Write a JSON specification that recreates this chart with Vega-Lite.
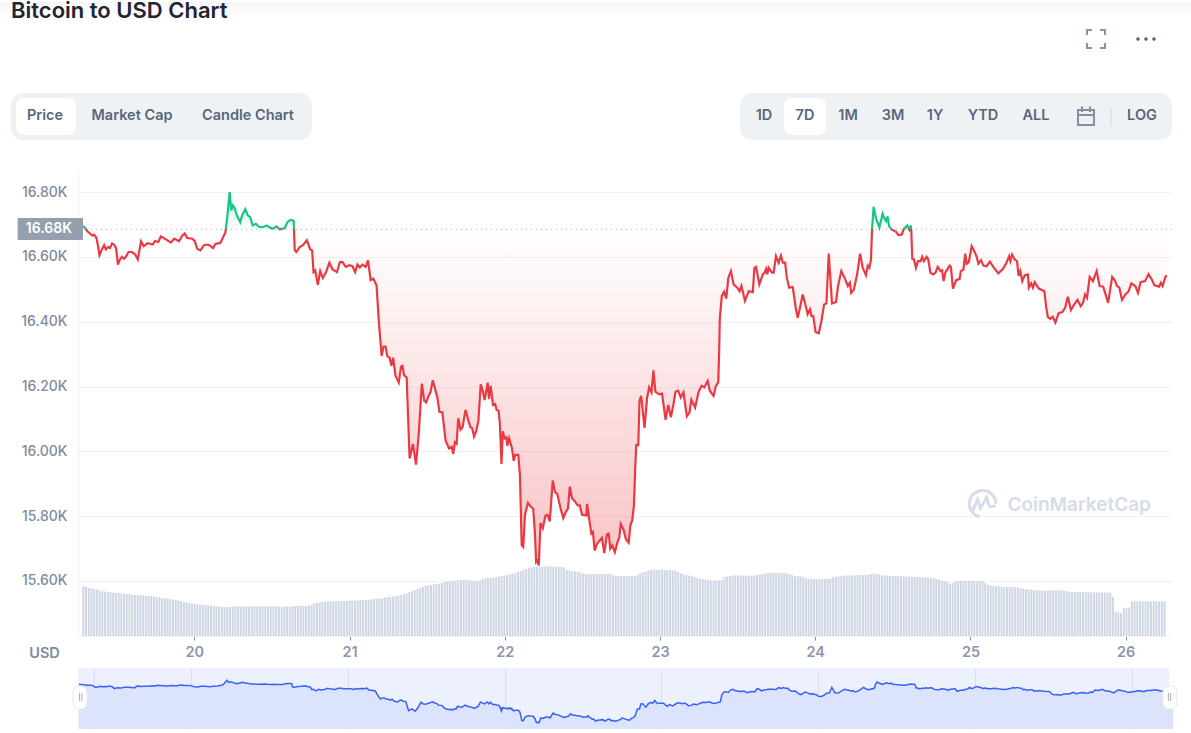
{"$schema":"https://vega.github.io/schema/vega-lite/v6.json","background":"#ffffff","padding":{"left":0,"top":0,"right":0,"bottom":5},"config":{"view":{"stroke":null},"font":"Inter"},"spacing":8,
"datasets":{"price":[
{"day":19.283,"price":16695},{"day":19.296,"price":16689},{"day":19.311,"price":16679},{"day":19.328,"price":16672},{"day":19.342,"price":16666},{"day":19.355,"price":16668},{"day":19.37,"price":16658},{"day":19.381,"price":16630},{"day":19.389,"price":16605},{"day":19.402,"price":16620},{"day":19.419,"price":16636},{"day":19.43,"price":16623},{"day":19.445,"price":16630},{"day":19.457,"price":16627},{"day":19.47,"price":16641},{"day":19.483,"price":16638},{"day":19.496,"price":16627},{"day":19.508,"price":16576},{"day":19.521,"price":16592},{"day":19.534,"price":16600},{"day":19.547,"price":16594},{"day":19.559,"price":16600},{"day":19.576,"price":16615},{"day":19.598,"price":16615},{"day":19.619,"price":16608},{"day":19.636,"price":16592},{"day":19.657,"price":16648},{"day":19.674,"price":16633},{"day":19.7,"price":16642},{"day":19.732,"price":16638},{"day":19.747,"price":16649},{"day":19.768,"price":16646},{"day":19.785,"price":16663},{"day":19.817,"price":16654},{"day":19.849,"price":16644},{"day":19.87,"price":16656},{"day":19.891,"price":16651},{"day":19.902,"price":16648},{"day":19.923,"price":16666},{"day":19.938,"price":16672},{"day":19.955,"price":16658},{"day":19.987,"price":16656},{"day":20.002,"price":16649},{"day":20.019,"price":16625},{"day":20.04,"price":16620},{"day":20.062,"price":16636},{"day":20.087,"price":16638},{"day":20.104,"price":16634},{"day":20.121,"price":16627},{"day":20.136,"price":16640},{"day":20.168,"price":16643},{"day":20.189,"price":16664},{"day":20.2,"price":16674},{"day":20.211,"price":16718},{"day":20.228,"price":16800},{"day":20.238,"price":16743},{"day":20.249,"price":16759},{"day":20.259,"price":16751},{"day":20.274,"price":16728},{"day":20.296,"price":16707},{"day":20.308,"price":16728},{"day":20.328,"price":16747},{"day":20.345,"price":16728},{"day":20.359,"price":16723},{"day":20.376,"price":16697},{"day":20.396,"price":16702},{"day":20.419,"price":16692},{"day":20.445,"price":16692},{"day":20.466,"price":16697},{"day":20.487,"price":16690},{"day":20.508,"price":16687},{"day":20.53,"price":16694},{"day":20.551,"price":16685},{"day":20.583,"price":16689},{"day":20.6,"price":16707},{"day":20.619,"price":16714},{"day":20.64,"price":16712},{"day":20.647,"price":16620},{"day":20.657,"price":16615},{"day":20.679,"price":16630},{"day":20.7,"price":16636},{"day":20.725,"price":16651},{"day":20.747,"price":16623},{"day":20.759,"price":16620},{"day":20.768,"price":16553},{"day":20.779,"price":16558},{"day":20.796,"price":16514},{"day":20.811,"price":16556},{"day":20.828,"price":16535},{"day":20.849,"price":16553},{"day":20.87,"price":16582},{"day":20.891,"price":16561},{"day":20.919,"price":16553},{"day":20.938,"price":16584},{"day":20.955,"price":16584},{"day":20.976,"price":16569},{"day":20.998,"price":16574},{"day":21.019,"price":16571},{"day":21.036,"price":16553},{"day":21.051,"price":16576},{"day":21.066,"price":16567},{"day":21.083,"price":16576},{"day":21.104,"price":16569},{"day":21.119,"price":16589},{"day":21.136,"price":16528},{"day":21.153,"price":16533},{"day":21.174,"price":16512},{"day":21.189,"price":16399},{"day":21.207,"price":16294},{"day":21.219,"price":16323},{"day":21.232,"price":16323},{"day":21.243,"price":16294},{"day":21.258,"price":16289},{"day":21.27,"price":16264},{"day":21.281,"price":16289},{"day":21.296,"price":16233},{"day":21.317,"price":16212},{"day":21.332,"price":16262},{"day":21.341,"price":16264},{"day":21.351,"price":16235},{"day":21.368,"price":16228},{"day":21.377,"price":16110},{"day":21.387,"price":15978},{"day":21.409,"price":16023},{"day":21.428,"price":15959},{"day":21.445,"price":16048},{"day":21.466,"price":16209},{"day":21.481,"price":16156},{"day":21.494,"price":16151},{"day":21.509,"price":16171},{"day":21.521,"price":16182},{"day":21.536,"price":16219},{"day":21.551,"price":16192},{"day":21.566,"price":16166},{"day":21.579,"price":16122},{"day":21.598,"price":16120},{"day":21.619,"price":16033},{"day":21.641,"price":16009},{"day":21.658,"price":16014},{"day":21.668,"price":15992},{"day":21.679,"price":16028},{"day":21.69,"price":16023},{"day":21.7,"price":16102},{"day":21.715,"price":16067},{"day":21.728,"price":16074},{"day":21.747,"price":16128},{"day":21.764,"price":16097},{"day":21.779,"price":16074},{"day":21.79,"price":16072},{"day":21.802,"price":16046},{"day":21.817,"price":16064},{"day":21.83,"price":16094},{"day":21.845,"price":16207},{"day":21.858,"price":16187},{"day":21.87,"price":16158},{"day":21.89,"price":16212},{"day":21.898,"price":16161},{"day":21.909,"price":16202},{"day":21.924,"price":16143},{"day":21.938,"price":16146},{"day":21.947,"price":16128},{"day":21.96,"price":16125},{"day":21.968,"price":16089},{"day":21.979,"price":15961},{"day":21.987,"price":16062},{"day":22,"price":16040},{"day":22.011,"price":16043},{"day":22.017,"price":16017},{"day":22.028,"price":16040},{"day":22.045,"price":16012},{"day":22.058,"price":15971},{"day":22.068,"price":15989},{"day":22.087,"price":15989},{"day":22.098,"price":15925},{"day":22.109,"price":15710},{"day":22.119,"price":15705},{"day":22.13,"price":15804},{"day":22.149,"price":15841},{"day":22.164,"price":15831},{"day":22.183,"price":15823},{"day":22.194,"price":15751},{"day":22.202,"price":15658},{"day":22.211,"price":15663},{"day":22.219,"price":15648},{"day":22.23,"price":15779},{"day":22.245,"price":15763},{"day":22.262,"price":15802},{"day":22.275,"price":15804},{"day":22.29,"price":15784},{"day":22.309,"price":15910},{"day":22.324,"price":15874},{"day":22.338,"price":15869},{"day":22.36,"price":15823},{"day":22.377,"price":15794},{"day":22.392,"price":15812},{"day":22.407,"price":15823},{"day":22.419,"price":15891},{"day":22.432,"price":15856},{"day":22.453,"price":15845},{"day":22.47,"price":15833},{"day":22.483,"price":15833},{"day":22.498,"price":15804},{"day":22.526,"price":15802},{"day":22.53,"price":15838},{"day":22.545,"price":15787},{"day":22.558,"price":15746},{"day":22.568,"price":15751},{"day":22.579,"price":15694},{"day":22.594,"price":15715},{"day":22.626,"price":15733},{"day":22.641,"price":15686},{"day":22.658,"price":15744},{"day":22.67,"price":15746},{"day":22.679,"price":15700},{"day":22.692,"price":15710},{"day":22.709,"price":15689},{"day":22.726,"price":15720},{"day":22.738,"price":15735},{"day":22.747,"price":15776},{"day":22.764,"price":15760},{"day":22.781,"price":15728},{"day":22.798,"price":15718},{"day":22.809,"price":15771},{"day":22.821,"price":15787},{"day":22.832,"price":15833},{"day":22.841,"price":15956},{"day":22.847,"price":16019},{"day":22.86,"price":16019},{"day":22.868,"price":16156},{"day":22.879,"price":16171},{"day":22.9,"price":16072},{"day":22.917,"price":16166},{"day":22.93,"price":16197},{"day":22.945,"price":16182},{"day":22.958,"price":16250},{"day":22.97,"price":16184},{"day":22.994,"price":16176},{"day":23.013,"price":16178},{"day":23.036,"price":16097},{"day":23.053,"price":16143},{"day":23.07,"price":16105},{"day":23.087,"price":16146},{"day":23.1,"price":16184},{"day":23.117,"price":16187},{"day":23.134,"price":16166},{"day":23.151,"price":16182},{"day":23.173,"price":16108},{"day":23.19,"price":16120},{"day":23.202,"price":16159},{"day":23.226,"price":16135},{"day":23.249,"price":16184},{"day":23.268,"price":16202},{"day":23.285,"price":16197},{"day":23.307,"price":16217},{"day":23.321,"price":16187},{"day":23.345,"price":16171},{"day":23.36,"price":16202},{"day":23.375,"price":16212},{"day":23.381,"price":16305},{"day":23.385,"price":16407},{"day":23.398,"price":16479},{"day":23.413,"price":16492},{"day":23.427,"price":16471},{"day":23.44,"price":16535},{"day":23.457,"price":16556},{"day":23.474,"price":16515},{"day":23.498,"price":16505},{"day":23.513,"price":16494},{"day":23.525,"price":16510},{"day":23.547,"price":16464},{"day":23.572,"price":16494},{"day":23.598,"price":16491},{"day":23.608,"price":16566},{"day":23.619,"price":16569},{"day":23.64,"price":16515},{"day":23.662,"price":16546},{"day":23.674,"price":16551},{"day":23.683,"price":16563},{"day":23.691,"price":16546},{"day":23.7,"price":16566},{"day":23.721,"price":16551},{"day":23.732,"price":16551},{"day":23.747,"price":16602},{"day":23.764,"price":16582},{"day":23.779,"price":16604},{"day":23.791,"price":16582},{"day":23.806,"price":16582},{"day":23.817,"price":16535},{"day":23.832,"price":16505},{"day":23.855,"price":16507},{"day":23.874,"price":16443},{"day":23.887,"price":16412},{"day":23.902,"price":16443},{"day":23.919,"price":16484},{"day":23.934,"price":16458},{"day":23.951,"price":16423},{"day":23.966,"price":16438},{"day":23.976,"price":16417},{"day":23.987,"price":16417},{"day":24.002,"price":16368},{"day":24.023,"price":16364},{"day":24.04,"price":16402},{"day":24.057,"price":16453},{"day":24.072,"price":16456},{"day":24.087,"price":16610},{"day":24.108,"price":16456},{"day":24.134,"price":16461},{"day":24.147,"price":16510},{"day":24.168,"price":16556},{"day":24.189,"price":16535},{"day":24.21,"price":16510},{"day":24.223,"price":16520},{"day":24.232,"price":16489},{"day":24.249,"price":16499},{"day":24.27,"price":16546},{"day":24.289,"price":16610},{"day":24.306,"price":16566},{"day":24.327,"price":16543},{"day":24.338,"price":16573},{"day":24.349,"price":16566},{"day":24.359,"price":16592},{"day":24.366,"price":16684},{"day":24.376,"price":16754},{"day":24.391,"price":16720},{"day":24.413,"price":16691},{"day":24.434,"price":16733},{"day":24.444,"price":16720},{"day":24.457,"price":16710},{"day":24.466,"price":16725},{"day":24.476,"price":16694},{"day":24.493,"price":16684},{"day":24.519,"price":16678},{"day":24.536,"price":16667},{"day":24.557,"price":16669},{"day":24.572,"price":16687},{"day":24.593,"price":16697},{"day":24.606,"price":16684},{"day":24.615,"price":16697},{"day":24.619,"price":16679},{"day":24.625,"price":16594},{"day":24.636,"price":16592},{"day":24.649,"price":16566},{"day":24.662,"price":16587},{"day":24.679,"price":16587},{"day":24.689,"price":16600},{"day":24.7,"price":16587},{"day":24.717,"price":16600},{"day":24.727,"price":16594},{"day":24.742,"price":16551},{"day":24.759,"price":16546},{"day":24.774,"price":16551},{"day":24.789,"price":16569},{"day":24.806,"price":16556},{"day":24.817,"price":16559},{"day":24.827,"price":16525},{"day":24.838,"price":16551},{"day":24.866,"price":16573},{"day":24.874,"price":16569},{"day":24.887,"price":16502},{"day":24.908,"price":16528},{"day":24.93,"price":16532},{"day":24.938,"price":16556},{"day":24.955,"price":16561},{"day":24.966,"price":16610},{"day":24.976,"price":16579},{"day":24.989,"price":16584},{"day":25.008,"price":16633},{"day":25.03,"price":16612},{"day":25.04,"price":16600},{"day":25.051,"price":16579},{"day":25.068,"price":16590},{"day":25.083,"price":16573},{"day":25.104,"price":16571},{"day":25.125,"price":16585},{"day":25.147,"price":16569},{"day":25.179,"price":16549},{"day":25.21,"price":16563},{"day":25.232,"price":16582},{"day":25.249,"price":16602},{"day":25.257,"price":16587},{"day":25.268,"price":16607},{"day":25.285,"price":16592},{"day":25.3,"price":16587},{"day":25.31,"price":16541},{"day":25.321,"price":16556},{"day":25.334,"price":16525},{"day":25.349,"price":16543},{"day":25.37,"price":16546},{"day":25.376,"price":16505},{"day":25.391,"price":16518},{"day":25.402,"price":16505},{"day":25.413,"price":16522},{"day":25.44,"price":16502},{"day":25.476,"price":16494},{"day":25.487,"price":16448},{"day":25.498,"price":16415},{"day":25.515,"price":16409},{"day":25.53,"price":16415},{"day":25.547,"price":16397},{"day":25.568,"price":16426},{"day":25.593,"price":16430},{"day":25.61,"price":16443},{"day":25.627,"price":16477},{"day":25.647,"price":16436},{"day":25.668,"price":16453},{"day":25.689,"price":16467},{"day":25.71,"price":16448},{"day":25.725,"price":16458},{"day":25.738,"price":16484},{"day":25.751,"price":16474},{"day":25.768,"price":16538},{"day":25.789,"price":16525},{"day":25.813,"price":16556},{"day":25.832,"price":16510},{"day":25.855,"price":16508},{"day":25.887,"price":16458},{"day":25.913,"price":16538},{"day":25.93,"price":16528},{"day":25.944,"price":16510},{"day":25.959,"price":16505},{"day":25.976,"price":16467},{"day":25.998,"price":16484},{"day":26.019,"price":16494},{"day":26.036,"price":16518},{"day":26.062,"price":16510},{"day":26.079,"price":16489},{"day":26.096,"price":16522},{"day":26.125,"price":16525},{"day":26.147,"price":16546},{"day":26.168,"price":16530},{"day":26.185,"price":16512},{"day":26.215,"price":16508},{"day":26.227,"price":16520},{"day":26.238,"price":16510},{"day":26.257,"price":16540},{"day":26.266,"price":16542}],
"volume":[
{"day":19.285,"volume":50},{"day":19.3025,"volume":49},{"day":19.32,"volume":48},{"day":19.3375,"volume":47.5},{"day":19.355,"volume":47},{"day":19.3725,"volume":46.5},{"day":19.39,"volume":45.5},{"day":19.4075,"volume":45},{"day":19.425,"volume":44.5},{"day":19.4425,"volume":44},{"day":19.46,"volume":44},{"day":19.4775,"volume":43.5},{"day":19.495,"volume":43},{"day":19.5125,"volume":43},{"day":19.53,"volume":42.5},{"day":19.5475,"volume":42.5},{"day":19.565,"volume":42},{"day":19.5825,"volume":42},{"day":19.6,"volume":41.5},{"day":19.6175,"volume":41},{"day":19.635,"volume":41},{"day":19.6525,"volume":40.5},{"day":19.67,"volume":40.5},{"day":19.6875,"volume":40.5},{"day":19.705,"volume":40},{"day":19.7225,"volume":40},{"day":19.74,"volume":39.5},{"day":19.7575,"volume":39},{"day":19.775,"volume":38.5},{"day":19.7925,"volume":38},{"day":19.81,"volume":38},{"day":19.8275,"volume":37.5},{"day":19.845,"volume":37},{"day":19.8625,"volume":36.5},{"day":19.88,"volume":36},{"day":19.8975,"volume":35.5},{"day":19.915,"volume":35},{"day":19.9325,"volume":34},{"day":19.95,"volume":33.5},{"day":19.9675,"volume":33},{"day":19.985,"volume":32.5},{"day":20.0025,"volume":32},{"day":20.02,"volume":31.5},{"day":20.0375,"volume":31.5},{"day":20.055,"volume":31},{"day":20.0725,"volume":31},{"day":20.09,"volume":30.5},{"day":20.1075,"volume":30},{"day":20.125,"volume":30},{"day":20.1425,"volume":29.5},{"day":20.16,"volume":29.5},{"day":20.1775,"volume":29},{"day":20.195,"volume":29},{"day":20.2125,"volume":29},{"day":20.23,"volume":29},{"day":20.2475,"volume":29.5},{"day":20.265,"volume":29.5},{"day":20.2825,"volume":29.5},{"day":20.3,"volume":29.5},{"day":20.3175,"volume":29.5},{"day":20.335,"volume":29.5},{"day":20.3525,"volume":29.5},{"day":20.37,"volume":29.5},{"day":20.3875,"volume":29.5},{"day":20.405,"volume":29.5},{"day":20.4225,"volume":29.5},{"day":20.44,"volume":29.5},{"day":20.4575,"volume":29.5},{"day":20.475,"volume":29.5},{"day":20.4925,"volume":29.5},{"day":20.51,"volume":29.5},{"day":20.5275,"volume":29.5},{"day":20.545,"volume":29.5},{"day":20.5625,"volume":29},{"day":20.58,"volume":29.5},{"day":20.5975,"volume":29.5},{"day":20.615,"volume":29.5},{"day":20.6325,"volume":29.5},{"day":20.65,"volume":30},{"day":20.6675,"volume":30},{"day":20.685,"volume":30},{"day":20.7025,"volume":30},{"day":20.72,"volume":30},{"day":20.7375,"volume":30.5},{"day":20.755,"volume":31},{"day":20.7725,"volume":32.5},{"day":20.79,"volume":33},{"day":20.8075,"volume":33.5},{"day":20.825,"volume":34},{"day":20.8425,"volume":34},{"day":20.86,"volume":34.5},{"day":20.8775,"volume":34.5},{"day":20.895,"volume":34.7},{"day":20.9125,"volume":35},{"day":20.93,"volume":35},{"day":20.9475,"volume":35},{"day":20.965,"volume":35},{"day":20.9825,"volume":35},{"day":21,"volume":35.5},{"day":21.0175,"volume":35.5},{"day":21.035,"volume":35.5},{"day":21.0525,"volume":35.5},{"day":21.07,"volume":36},{"day":21.0875,"volume":36},{"day":21.105,"volume":36},{"day":21.1225,"volume":36.3},{"day":21.14,"volume":36.5},{"day":21.1575,"volume":37},{"day":21.175,"volume":37},{"day":21.1925,"volume":37.5},{"day":21.21,"volume":38},{"day":21.2275,"volume":38.5},{"day":21.245,"volume":39},{"day":21.2625,"volume":39},{"day":21.28,"volume":39.5},{"day":21.2975,"volume":40},{"day":21.315,"volume":40.5},{"day":21.3325,"volume":41},{"day":21.35,"volume":42},{"day":21.3675,"volume":42.5},{"day":21.385,"volume":43.5},{"day":21.4025,"volume":44.7},{"day":21.42,"volume":46},{"day":21.4375,"volume":47},{"day":21.455,"volume":48},{"day":21.4725,"volume":49},{"day":21.49,"volume":50},{"day":21.5075,"volume":50.5},{"day":21.525,"volume":51},{"day":21.5425,"volume":51.5},{"day":21.56,"volume":52},{"day":21.5775,"volume":52.5},{"day":21.595,"volume":53},{"day":21.6125,"volume":54},{"day":21.63,"volume":54.5},{"day":21.6475,"volume":55},{"day":21.665,"volume":55},{"day":21.6825,"volume":55.5},{"day":21.7,"volume":56},{"day":21.7175,"volume":56},{"day":21.735,"volume":56},{"day":21.7525,"volume":56},{"day":21.77,"volume":55.5},{"day":21.7875,"volume":55.5},{"day":21.805,"volume":55},{"day":21.8225,"volume":55},{"day":21.84,"volume":55.5},{"day":21.8575,"volume":57},{"day":21.875,"volume":57.5},{"day":21.8925,"volume":58},{"day":21.91,"volume":58},{"day":21.9275,"volume":58.5},{"day":21.945,"volume":59},{"day":21.9625,"volume":59.5},{"day":21.98,"volume":60},{"day":21.9975,"volume":60.5},{"day":22.015,"volume":61},{"day":22.0325,"volume":62},{"day":22.05,"volume":62.5},{"day":22.0675,"volume":63},{"day":22.085,"volume":64},{"day":22.1025,"volume":65},{"day":22.12,"volume":66.5},{"day":22.1375,"volume":67},{"day":22.155,"volume":68},{"day":22.1725,"volume":68.5},{"day":22.19,"volume":69},{"day":22.2075,"volume":69.5},{"day":22.225,"volume":69.5},{"day":22.2425,"volume":69.7},{"day":22.26,"volume":69.7},{"day":22.2775,"volume":69.5},{"day":22.295,"volume":69.5},{"day":22.3125,"volume":69.5},{"day":22.33,"volume":69},{"day":22.3475,"volume":69},{"day":22.365,"volume":69},{"day":22.3825,"volume":68.7},{"day":22.4,"volume":66},{"day":22.4175,"volume":65.5},{"day":22.435,"volume":65},{"day":22.4525,"volume":64.5},{"day":22.47,"volume":64},{"day":22.4875,"volume":63.5},{"day":22.505,"volume":62.5},{"day":22.5225,"volume":62},{"day":22.54,"volume":62},{"day":22.5575,"volume":62},{"day":22.575,"volume":62},{"day":22.5925,"volume":62},{"day":22.61,"volume":62},{"day":22.6275,"volume":62},{"day":22.645,"volume":62},{"day":22.6625,"volume":62},{"day":22.68,"volume":62},{"day":22.6975,"volume":61},{"day":22.715,"volume":60},{"day":22.7325,"volume":60},{"day":22.75,"volume":60},{"day":22.7675,"volume":60},{"day":22.785,"volume":60},{"day":22.8025,"volume":60},{"day":22.82,"volume":60},{"day":22.8375,"volume":60},{"day":22.855,"volume":61},{"day":22.8725,"volume":63},{"day":22.89,"volume":64},{"day":22.9075,"volume":64.5},{"day":22.925,"volume":65.5},{"day":22.9425,"volume":66},{"day":22.96,"volume":66.5},{"day":22.9775,"volume":66.3},{"day":22.995,"volume":66.3},{"day":23.0125,"volume":66.3},{"day":23.03,"volume":66},{"day":23.0475,"volume":66},{"day":23.065,"volume":66},{"day":23.0825,"volume":65.5},{"day":23.1,"volume":65.5},{"day":23.1175,"volume":64},{"day":23.135,"volume":62.5},{"day":23.1525,"volume":61.5},{"day":23.17,"volume":61},{"day":23.1875,"volume":60.5},{"day":23.205,"volume":60},{"day":23.2225,"volume":59},{"day":23.24,"volume":58},{"day":23.2575,"volume":57},{"day":23.275,"volume":57},{"day":23.2925,"volume":56.5},{"day":23.31,"volume":56},{"day":23.3275,"volume":55.7},{"day":23.345,"volume":55.7},{"day":23.3625,"volume":55.7},{"day":23.38,"volume":55.7},{"day":23.3975,"volume":56},{"day":23.415,"volume":59},{"day":23.4325,"volume":59.5},{"day":23.45,"volume":60},{"day":23.4675,"volume":60.5},{"day":23.485,"volume":60.7},{"day":23.5025,"volume":60.5},{"day":23.52,"volume":60.5},{"day":23.5375,"volume":60.5},{"day":23.555,"volume":60.5},{"day":23.5725,"volume":60.5},{"day":23.59,"volume":60},{"day":23.6075,"volume":60.5},{"day":23.625,"volume":61},{"day":23.6425,"volume":61.5},{"day":23.66,"volume":62},{"day":23.6775,"volume":62.5},{"day":23.695,"volume":63},{"day":23.7125,"volume":63},{"day":23.73,"volume":63},{"day":23.7475,"volume":63},{"day":23.765,"volume":63},{"day":23.7825,"volume":63},{"day":23.8,"volume":63},{"day":23.8175,"volume":62.5},{"day":23.835,"volume":62},{"day":23.8525,"volume":60.7},{"day":23.87,"volume":60},{"day":23.8875,"volume":59.7},{"day":23.905,"volume":59.5},{"day":23.9225,"volume":59},{"day":23.94,"volume":57.5},{"day":23.9575,"volume":57.3},{"day":23.975,"volume":57},{"day":23.9925,"volume":57},{"day":24.01,"volume":57},{"day":24.0275,"volume":57},{"day":24.045,"volume":57},{"day":24.0625,"volume":57},{"day":24.08,"volume":57},{"day":24.0975,"volume":57},{"day":24.115,"volume":59},{"day":24.1325,"volume":59.5},{"day":24.15,"volume":59.5},{"day":24.1675,"volume":60},{"day":24.185,"volume":60.3},{"day":24.2025,"volume":60.5},{"day":24.22,"volume":60.5},{"day":24.2375,"volume":60.5},{"day":24.255,"volume":60.8},{"day":24.2725,"volume":61},{"day":24.29,"volume":61},{"day":24.3075,"volume":61},{"day":24.325,"volume":61},{"day":24.3425,"volume":61.5},{"day":24.36,"volume":62},{"day":24.3775,"volume":62.7},{"day":24.395,"volume":62},{"day":24.4125,"volume":61.5},{"day":24.43,"volume":60.7},{"day":24.4475,"volume":60.5},{"day":24.465,"volume":60.3},{"day":24.4825,"volume":60},{"day":24.5,"volume":60},{"day":24.5175,"volume":60},{"day":24.535,"volume":60},{"day":24.5525,"volume":59.7},{"day":24.57,"volume":59.7},{"day":24.5875,"volume":59.7},{"day":24.605,"volume":59.5},{"day":24.6225,"volume":59.3},{"day":24.64,"volume":59},{"day":24.6575,"volume":59},{"day":24.675,"volume":58.7},{"day":24.6925,"volume":58.7},{"day":24.71,"volume":58.5},{"day":24.7275,"volume":58.5},{"day":24.745,"volume":58.3},{"day":24.7625,"volume":58},{"day":24.78,"volume":57},{"day":24.7975,"volume":56},{"day":24.815,"volume":55.5},{"day":24.8325,"volume":55},{"day":24.85,"volume":54},{"day":24.8675,"volume":52.3},{"day":24.885,"volume":53},{"day":24.9025,"volume":54.7},{"day":24.92,"volume":55},{"day":24.9375,"volume":55},{"day":24.955,"volume":55},{"day":24.9725,"volume":55},{"day":24.99,"volume":55},{"day":25.0075,"volume":55},{"day":25.025,"volume":55},{"day":25.0425,"volume":55},{"day":25.06,"volume":55},{"day":25.0775,"volume":55},{"day":25.095,"volume":53},{"day":25.1125,"volume":51},{"day":25.13,"volume":50.5},{"day":25.1475,"volume":50},{"day":25.165,"volume":49.7},{"day":25.1825,"volume":49.5},{"day":25.2,"volume":49},{"day":25.2175,"volume":49},{"day":25.235,"volume":49},{"day":25.2525,"volume":49},{"day":25.27,"volume":49},{"day":25.2875,"volume":49},{"day":25.305,"volume":48.5},{"day":25.3225,"volume":48},{"day":25.34,"volume":47.5},{"day":25.3575,"volume":47},{"day":25.375,"volume":46.7},{"day":25.3925,"volume":46.5},{"day":25.41,"volume":46},{"day":25.4275,"volume":45.8},{"day":25.445,"volume":45.5},{"day":25.4625,"volume":45.3},{"day":25.48,"volume":45.5},{"day":25.4975,"volume":45.7},{"day":25.515,"volume":45.7},{"day":25.5325,"volume":45.7},{"day":25.55,"volume":45.7},{"day":25.5675,"volume":45.7},{"day":25.585,"volume":45.7},{"day":25.6025,"volume":45},{"day":25.62,"volume":44.8},{"day":25.6375,"volume":44.3},{"day":25.655,"volume":44},{"day":25.6725,"volume":44},{"day":25.69,"volume":44},{"day":25.7075,"volume":44},{"day":25.725,"volume":43.8},{"day":25.7425,"volume":43.8},{"day":25.76,"volume":43.8},{"day":25.7775,"volume":43.7},{"day":25.795,"volume":43.7},{"day":25.8125,"volume":43.7},{"day":25.83,"volume":43.5},{"day":25.8475,"volume":43.5},{"day":25.865,"volume":43.5},{"day":25.8825,"volume":43.4},{"day":25.9,"volume":43.4},{"day":25.9175,"volume":39},{"day":25.935,"volume":24},{"day":25.9525,"volume":23.5},{"day":25.97,"volume":23},{"day":25.9875,"volume":28},{"day":26.005,"volume":28},{"day":26.0225,"volume":28.5},{"day":26.04,"volume":34.7},{"day":26.0575,"volume":34.7},{"day":26.075,"volume":34.7},{"day":26.0925,"volume":34.7},{"day":26.11,"volume":34.7},{"day":26.1275,"volume":34.7},{"day":26.145,"volume":34.7},{"day":26.1625,"volume":34.7},{"day":26.18,"volume":34.7},{"day":26.1975,"volume":34.7},{"day":26.215,"volume":34.7},{"day":26.2325,"volume":34.7},{"day":26.25,"volume":34.7}]},
"vconcat":[
{"width":1094,"height":159,
"title":{"text":"Bitcoin to USD Chart","anchor":"start","frame":"bounds","orient":"top","offset":-38,"baseline":"alphabetic","dx":11,"font":"Inter","fontSize":22,"fontWeight":600,"color":"#222531"},
"encoding":{"x":{"field":"col","type":"quantitative","axis":null,"scale":{"domain":[0,1,2,3,4,5,6,7,8,9,10,11,12,13,14,15,16,17,18,19,20,21,22,23,24],"range":[-78,-67,-62,-33,-2,54,170,234,662,686,706,727,748,770,815,857,905,958,1008,1018,1033,1064,1068,1094,1113],"nice":false,"zero":false}},"y":{"field":"row","type":"quantitative","axis":null,"scale":{"domain":[0,1,2,3,4,5,6,7,8,9,10],"range":[0,15,37,91,96,106,114,124,133,138,159],"nice":false,"zero":false}}},
"layer":[
{"data":{"values":[{"name":"Page band","col":0,"colEnd":24,"row":0,"rowEnd":1}]},"mark":{"type":"rect","fill":{"gradient":"linear","x1":0,"x2":0,"y1":0,"y2":1,"stops":[{"offset":0,"color":"#f7f7f8"},{"offset":1,"color":"#ffffff"}]}},"encoding":{"x2":{"field":"colEnd"},"y2":{"field":"rowEnd"}}},
{"data":{"values":[{"name":"Chart tabs","col":1,"colEnd":7,"row":3,"rowEnd":9},{"name":"Range tabs","col":8,"colEnd":23,"row":3,"rowEnd":9}]},"mark":{"type":"rect","fill":"#eff2f5","cornerRadius":12},"encoding":{"x2":{"field":"colEnd"},"y2":{"field":"rowEnd"}}},
{"data":{"values":[{"name":"Price active","col":2,"colEnd":4,"row":4,"rowEnd":8},{"name":"7D active","col":10,"colEnd":12,"row":4,"rowEnd":8}]},"mark":{"type":"rect","fill":"#ffffff","cornerRadius":8},"encoding":{"x2":{"field":"colEnd"},"y2":{"field":"rowEnd"}}},
{"data":{"values":[{"name":"Separator","col":20,"row":5,"rowEnd":7}]},"mark":{"type":"rule","stroke":"#cfd6e4","strokeWidth":1},"encoding":{"y2":{"field":"rowEnd"}}},
{"data":{"values":[{"label":"Price","col":3,"row":6},{"label":"Market Cap","col":5,"row":6},{"label":"Candle Chart","col":6,"row":6},{"label":"1D","col":9,"row":6},{"label":"7D","col":11,"row":6},{"label":"1M","col":13,"row":6},{"label":"3M","col":14,"row":6},{"label":"1Y","col":15,"row":6},{"label":"YTD","col":16,"row":6},{"label":"ALL","col":17,"row":6},{"label":"LOG","col":21,"row":6}]},"mark":{"type":"text","font":"Inter","fontSize":14.5,"fontWeight":600,"fill":"#58667e","align":"center","baseline":"middle"},"encoding":{"text":{"field":"label"}}},
{"data":{"values":[{"name":"Calendar","col":18,"row":6}]},"mark":{"type":"point","filled":false,"size":400,"stroke":"#58667e","strokeWidth":2,"shape":"M-0.8,-0.6 H0.8 V0.9 H-0.8 Z M-0.8,-0.1 H0.8 M-0.4,-0.95 V-0.4 M0.4,-0.95 V-0.4"}},
{"data":{"values":[{"name":"Fullscreen","col":19,"row":2}]},"mark":{"type":"point","filled":false,"size":324,"stroke":"#58667e","strokeWidth":2,"shape":"M-1,-0.45 V-1 H-0.45 M0.45,-1 H1 V-0.45 M1,0.45 V1 H0.45 M-0.45,1 H-1 V0.45"}},
{"data":{"values":[{"name":"More","col":22,"row":2}]},"mark":{"type":"point","filled":true,"size":400,"fill":"#58667e","opacity":1,"shape":"M-0.98,0a0.18,0.18 0 1,0 0.36,0a0.18,0.18 0 1,0 -0.36,0Z M-0.18,0a0.18,0.18 0 1,0 0.36,0a0.18,0.18 0 1,0 -0.36,0Z M0.62,0a0.18,0.18 0 1,0 0.36,0a0.18,0.18 0 1,0 -0.36,0Z"}}
]},
{"width":1094,"height":467,
"resolve":{"scale":{"y":"independent"},"axis":{"y":"independent"}},
"layer":[
{"data":{"name":"volume"},"mark":{"type":"bar","width":2,"fill":"#cfd6e4"},"encoding":{"x":{"field":"day","type":"quantitative","scale":{"domain":[19.283,26.266],"nice":false,"zero":false},"axis":{"title":"USD","values":[20,21,22,23,24,25,26],"format":"d","grid":false,"domainColor":"#eff2f5","tickColor":"#808a9d","tickSize":4,"labelPadding":5,"labelFont":"Inter","labelFontSize":14.5,"labelFontWeight":600,"labelColor":"#8d95aa","titleFont":"Inter","titleFontSize":14.5,"titleFontWeight":600,"titleColor":"#808a9d","titleX":-34,"titleY":17,"titleAlign":"center","titleBaseline":"middle"}},"y":{"field":"volume","type":"quantitative","axis":null,"scale":{"domain":[0,467],"nice":false}}}},
{"layer":[
{"data":{"name":"price"},"mark":{"type":"area","fill":{"gradient":"linear","x1":0,"x2":0,"y1":0,"y2":1,"stops":[{"offset":0,"color":"rgba(22,199,132,0.3)"},{"offset":0.0998,"color":"rgba(22,199,132,0)"},{"offset":0.0998,"color":"rgba(234,57,67,0)"},{"offset":1,"color":"rgba(234,57,67,0.3)"}]}},"encoding":{"x":{"field":"day","type":"quantitative"},"y":{"field":"price","type":"quantitative","scale":{"domain":[15430.3,16871],"nice":false,"zero":false},"axis":{"title":null,"values":[15600,15800,16000,16200,16400,16600,16800],"labelExpr":"format(datum.value/1000,'.2f')+'K'","grid":true,"gridColor":"#eff2f5","domain":true,"domainColor":"#eff2f5","ticks":false,"labelPadding":11,"labelFont":"Inter","labelFontSize":14,"labelFontWeight":500,"labelColor":"#808a9d"}},"y2":{"datum":16685}}},
{"data":{"values":[{"reference":16685}]},"mark":{"type":"rule","stroke":"#a6b0c3","strokeWidth":1,"strokeDash":[1,4]},"encoding":{"y":{"field":"reference","type":"quantitative"}}},
{"data":{"name":"price"},"mark":{"type":"line","strokeWidth":2.2,"stroke":{"gradient":"linear","x1":0,"x2":0,"y1":0,"y2":1,"stops":[{"offset":0,"color":"#16c784"},{"offset":0.0998,"color":"#16c784"},{"offset":0.0998,"color":"#ea3943"},{"offset":1,"color":"#ea3943"}]}},"encoding":{"x":{"field":"day","type":"quantitative"},"y":{"field":"price","type":"quantitative"}}},
{"data":{"values":[{"label":"16.68K"}]},"mark":{"type":"rect","fill":"#979eae"},"encoding":{"x":{"datum":18.862,"type":"quantitative"},"x2":{"datum":19.283},"y":{"datum":16720,"type":"quantitative"},"y2":{"datum":16652}}},
{"data":{"values":[{"label":"16.68K"}]},"mark":{"type":"text","font":"Inter","fontSize":14,"fontWeight":600,"fill":"#ffffff","align":"right","baseline":"middle","dx":-11},"encoding":{"x":{"datum":19.283,"type":"quantitative"},"y":{"datum":16685,"type":"quantitative"},"text":{"field":"label"}}},
{"data":{"values":[{"label":"CoinMarketCap"}]},"mark":{"type":"text","font":"Inter","fontSize":19,"fontWeight":600,"fill":"#d6dce8","align":"left","baseline":"middle"},"encoding":{"x":{"datum":25.238,"type":"quantitative"},"y":{"datum":15833,"type":"quantitative"},"text":{"field":"label"}}},
{"data":{"values":[{"name":"CoinMarketCap logo"}]},"mark":{"type":"point","filled":false,"size":784,"stroke":"#d6dce8","strokeWidth":3,"opacity":1,"shape":"M-0.72,0.5 L-0.35,-0.3 L-0.15,0.3 L0.3,-0.45 L0.45,0.1 Q0.55,0.32 0.92,0.1 M0.95,0 A0.95,0.95 0 1 0 -0.2,0.93"},"encoding":{"x":{"datum":25.078,"type":"quantitative"},"y":{"datum":15838,"type":"quantitative"}}}
]}
]},
{"width":1091,"height":61,"view":{"fill":"#edf1fe"},
"layer":[
{"data":{"name":"price"},"mark":{"type":"area","fill":"#dbe3fd"},"encoding":{"x":{"field":"day","type":"quantitative","scale":{"domain":[19.277,26.239],"nice":false,"zero":false},"axis":{"title":null,"values":[19.38,20,21,22,23,24,25,26],"labelExpr":"datum.value<20?'':format(datum.value,'d')","grid":true,"gridColor":"#d6ddf6","domain":false,"ticks":false,"labelPadding":-23,"labelFont":"Inter","labelFontSize":14.5,"labelFontWeight":600,"labelColor":"#8d95aa"}},"y":{"field":"price","type":"quantitative","axis":null,"scale":{"domain":[15479,17134],"nice":false,"zero":false}},"y2":{"datum":15479}}},
{"data":{"name":"price"},"mark":{"type":"line","stroke":"#3861fb","strokeWidth":1.5},"encoding":{"x":{"field":"day","type":"quantitative"},"y":{"field":"price","type":"quantitative"}}},
{"data":{"values":[{"handle":"Range start"}]},"mark":{"type":"rect","fill":"#ffffff","stroke":"#e6e9f0","cornerRadius":6},"encoding":{"x":{"datum":19.245,"type":"quantitative"},"x2":{"datum":19.334},"y":{"datum":16646,"type":"quantitative"},"y2":{"datum":16022}}},
{"data":{"values":[{"handle":"Range end"}]},"mark":{"type":"rect","fill":"#ffffff","stroke":"#e6e9f0","cornerRadius":6},"encoding":{"x":{"datum":26.2,"type":"quantitative"},"x2":{"datum":26.29},"y":{"datum":16646,"type":"quantitative"},"y2":{"datum":16022}}},
{"data":{"values":[{"grip":"a","day":19.287},{"grip":"b","day":19.302},{"grip":"c","day":26.235},{"grip":"d","day":26.25}]},"mark":{"type":"rule","stroke":"#a6b0c3","strokeWidth":1},"encoding":{"x":{"field":"day","type":"quantitative"},"y":{"datum":16456,"type":"quantitative"},"y2":{"datum":16239}}}
]}
]}
